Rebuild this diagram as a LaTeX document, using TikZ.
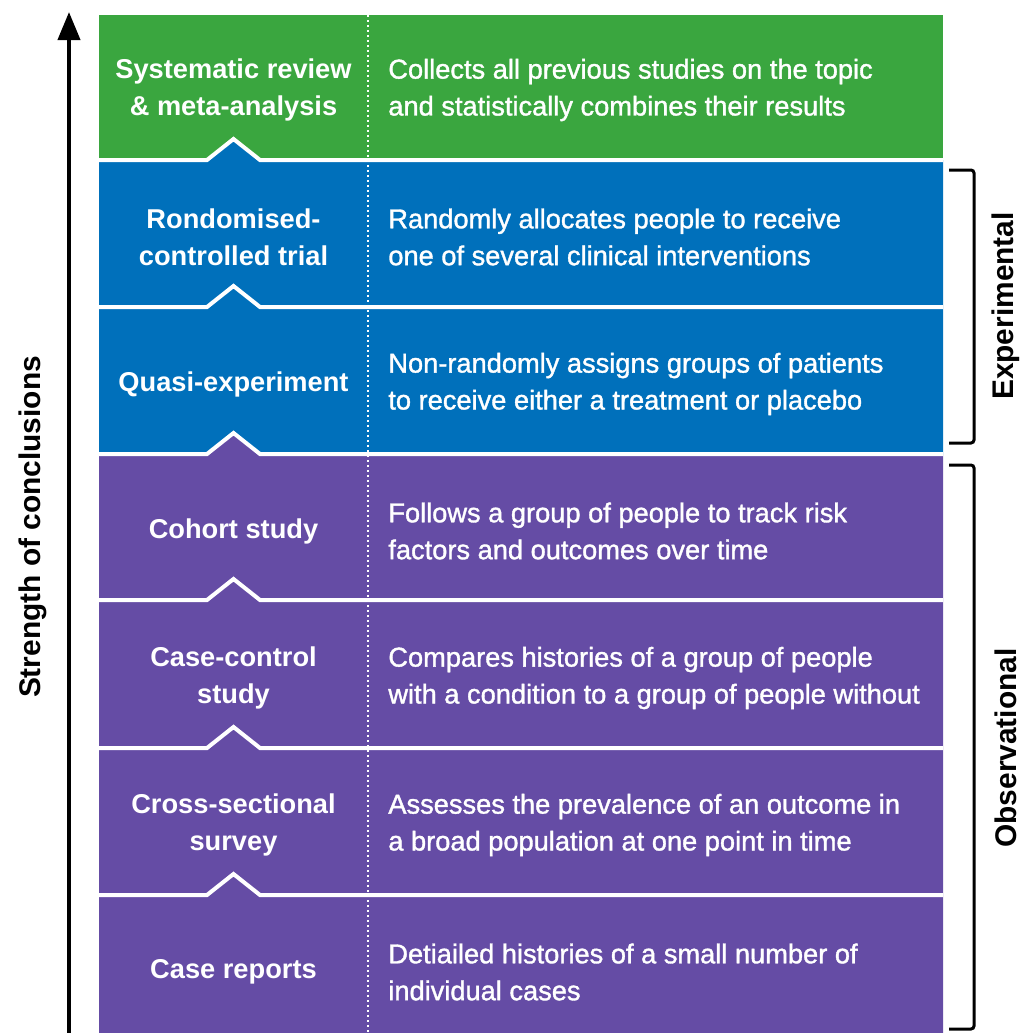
\documentclass[tikz,border=0pt]{standalone}
\usepackage{fontspec}
\setmainfont{Liberation Sans}
\newfontfamily\medfont[FakeBold=1.3]{Liberation Sans}
\usetikzlibrary{arrows.meta}
\definecolor{revgreen}{HTML}{3AA63F}
\definecolor{expblue}{HTML}{0070BB}
\definecolor{obspurple}{HTML}{654CA5}
\tikzset{
  lefttext/.style={text=white,font=\fontsize{15.5}{21}\selectfont\bfseries,align=center,yshift=-0.6mm},
  righttext/.style={text=white,font=\medfont\fontsize{15.5}{21}\selectfont,align=left,anchor=west,inner sep=0pt,yshift=-0.6mm},
  sidetext/.style={font=\fontsize{17}{21}\selectfont\bfseries,rotate=90,inner sep=0pt},
  bracket/.style={line width=0.6mm,rounded corners=0.6mm}
}
\begin{document}
\begin{tikzpicture}[x=0.2mm,y=-0.2mm]
	\useasboundingbox (0,0) rectangle (1022,1033);
	\fill[revgreen] (99,15) rectangle (943,160);
	\foreach \t/\b/\c in {160/307/expblue,307/454/expblue,454/600/obspurple,600/748/obspurple,748/895/obspurple,895/1033/obspurple}{
		\fill[\c] (99,\t) -- (207,\t) -- (233.5,{\t-21}) -- (260,\t) -- (943,\t) -- (943,\b) -- (99,\b) -- cycle;
		\draw[white,line width=0.8mm] (99,\t) -- (207,\t) -- (233.5,{\t-21}) -- (260,\t) -- (943,\t);
	}
	\draw[white,line width=0.4mm,dash pattern=on 0.4mm off 0.6mm] (368,15) -- (368,1033);
	\draw[line width=0.8mm,-{Triangle[length=5.6mm,width=4.4mm]}] (69,1033) -- (69,12);
	\node[lefttext] (sysrev) at (233.5,87) {Systematic review\\\& meta-analysis};
	\node[righttext] (sysrevtxt) at (388,87) {Collects all previous studies on the topic\\and statistically combines their results};
	\node[lefttext] (rct) at (233.5,234) {Rondomised-\\controlled trial};
	\node[righttext] (rcttxt) at (388,234) {Randomly allocates people to receive\\one of several clinical interventions};
	\node[lefttext] (quasi) at (233.5,381) {Quasi-experiment};
	\node[righttext] (quasitxt) at (388,381) {Non-randomly assigns groups of patients\\to receive either a treatment or placebo};
	\node[lefttext] (cohort) at (233.5,528) {Cohort study};
	\node[righttext] (cohorttxt) at (388,528) {Follows a group of people to track risk\\factors and outcomes over time};
	\node[lefttext] (casectl) at (233.5,675) {Case-control\\study};
	\node[righttext] (casectltxt) at (388,675) {Compares histories of a group of people\\with a condition to a group of people without};
	\node[lefttext] (cross) at (233.5,822) {Cross-sectional\\survey};
	\node[righttext] (crosstxt) at (388,822) {Assesses the prevalence of an outcome in\\a broad population at one point in time};
	\node[lefttext] (casrep) at (233.5,969) {Case reports};
	\node[righttext] (casreptxt) at (388,969) {Detiailed histories of a small number of\\individual cases};
	\node[sidetext] (strength) at (33,527) {Strength of conclusions};
	\draw[bracket] (949,170) -- (974,170) -- (974,443) -- (949,443);
	\draw[bracket] (949,465) -- (974,465) -- (974,1029) -- (949,1029);
	\node[sidetext] (exper) at (1006,306) {Experimental};
	\node[sidetext] (obser) at (1006,748) {Observational};
\end{tikzpicture}
\end{document}
